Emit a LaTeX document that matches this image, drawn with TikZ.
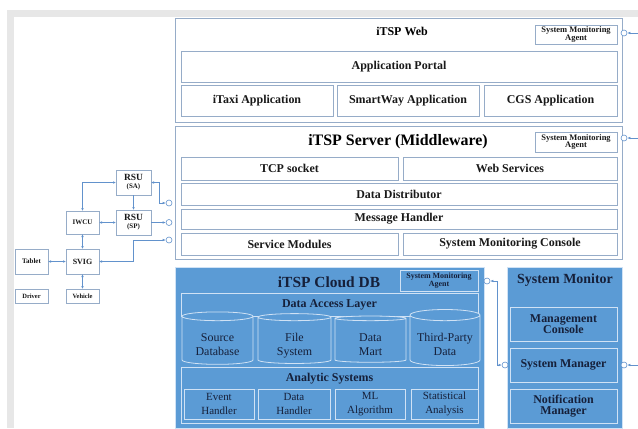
\documentclass[tikz,border=0pt]{standalone}
\usepackage{fontspec}
\setmainfont{Liberation Serif}
\usetikzlibrary{arrows.meta,shapes.geometric}

\definecolor{frameGray}{RGB}{231,231,231}
\definecolor{boxLine}{RGB}{150,172,200}
\definecolor{linkBlue}{RGB}{98,146,204}
\definecolor{cloudBlue}{RGB}{91,155,213}
\definecolor{cloudLine}{RGB}{208,226,245}
\definecolor{cloudText}{RGB}{22,32,58}

\newcommand{\fsz}[2]{\fontsize{#1}{#2}\selectfont}
\newcommand{\dbText}[1]{\raisebox{0pt}[\dimexpr\height+10bp\relax][\depth]{\begin{tabular}{@{}c@{}}#1\end{tabular}}}

\begin{document}
\begin{tikzpicture}[x=1bp, y=-1bp,
    wh/.style 2 args={minimum width=#1bp, minimum height=#2bp},
    wBox/.style={draw=boxLine, fill=white, line width=0.6pt, inner sep=0pt, outer sep=0pt, text=black!90, font=\bfseries\fsz{12}{13}},
    agentBox/.style={wBox, align=center, font=\bfseries\fsz{8.5}{8}},
    devBox/.style={wBox, align=center, font=\bfseries\fsz{7}{8}},
    cBox/.style={draw=cloudLine, fill=cloudBlue, line width=0.8pt, inner sep=0pt, outer sep=0pt, text=cloudText, align=center, font=\fsz{11}{14}},
    cTitle/.style={text=cloudText, font=\bfseries\fsz{12}{13}},
    cyl/.style={cylinder, shape border rotate=90, aspect=0.2, cBox, font=\fsz{12}{14.5}},
    port/.style={circle, draw=linkBlue, fill=white, line width=0.6pt, inner sep=0pt, minimum size=6bp},
    link/.style={draw=linkBlue, line width=0.6pt, -{Latex[length=3bp,width=2.6bp]}},
    link2/.style={draw=linkBlue, line width=0.6pt, {Latex[length=3bp,width=2.6bp]}-{Latex[length=3bp,width=2.6bp]}},
]
\useasboundingbox (0,0) rectangle (638,428);
\fill[frameGray] (7,10) rectangle (638,428);
\fill[white] (14,17) rectangle (638,428);

% iTSP Web
\node[wBox, wh={447}{104}] (web) at (398.5,70) {};
\node[font=\bfseries\fsz{12}{13}] (webTitle) at (402,31) {iTSP Web};
\node[agentBox, wh={82}{19}] (webAgent) at (576,34.5) {System Monitoring\\Agent};
\node[wBox, wh={436}{31}] (portal) at (399,66.5) {Application Portal};
\node[wBox, wh={152}{31}] (itaxi) at (257,100.5) {iTaxi Application};
\node[wBox, wh={142}{31}] (smartway) at (408,100.5) {SmartWay Application};
\node[wBox, wh={133}{31}] (cgs) at (550.5,100.5) {CGS Application};

% iTSP Server
\node[wBox, wh={447}{133}] (server) at (398.5,192.5) {};
\node[font=\bfseries\fsz{16}{17}] (serverTitle) at (398,142) {iTSP Server (Middleware)};
\node[agentBox, wh={82}{20}] (serverAgent) at (576,142) {System Monitoring\\Agent};
\node[wBox, wh={217}{23}] (tcp) at (289.5,168.5) {TCP socket};
\node[wBox, wh={214}{23}] (websvc) at (510,168.5) {Web Services};
\node[wBox, wh={436}{22}] (distributor) at (399,194) {Data Distributor};
\node[wBox, wh={436}{20}] (msghandler) at (399,219) {Message Handler};
\node[wBox, wh={217}{22}] (svcmod) at (289.5,244) {Service Modules};
\node[wBox, wh={214}{22}] (console) at (510,244) {System Monitoring Console};

% iTSP Cloud DB
\node[cBox, wh={309}{161}] (cloud) at (329.5,347.5) {};
\node[cTitle, font=\bfseries\fsz{15.5}{16}] (cloudTitle) at (329,282) {iTSP Cloud DB};
\node[cBox, font=\bfseries\fsz{8}{8}, wh={78}{21}] (cloudAgent) at (439,280.5) {System Monitoring\\Agent};
\node[cBox, font=\bfseries\fsz{12}{13}, wh={297}{23}] (access) at (329.5,304.5) {Data Access Layer};
\node[cyl, wh={71}{41}] (srcdb) at (217.5,340.5) {\dbText{Source\\Database}};
\node[cyl, wh={73}{41}] (filesys) at (294.5,340.5) {\dbText{File\\System}};
\node[cyl, wh={71}{41}] (mart) at (370.5,340.5) {\dbText{Data\\Mart}};
\node[cyl, wh={70}{41}] (thirdparty) at (445,340.5) {\dbText{Third-Party\\Data}};
\node[cBox, wh={297}{56}] (analytic) at (329.5,395) {};
\node[cTitle] (analyticTitle) at (329.5,379) {Analytic Systems};
\node[cBox, wh={70}{30}] (event) at (219,404) {Event\\Handler};
\node[cBox, wh={72}{30}] (datah) at (294,404) {Data\\Handler};
\node[cBox, wh={70}{30}] (ml) at (370,404) {ML\\Algorithm};
\node[cBox, wh={67}{30}] (stat) at (444.5,404) {Statistical\\Analysis};

% System Monitor
\node[cBox, wh={115}{161}] (monitor) at (564.5,347.5) {};
\node[cTitle, font=\bfseries\fsz{14}{15}] (monitorTitle) at (565,280) {System Monitor};
\node[cBox, font=\bfseries\fsz{12}{11}, wh={107}{34}] (mgmt) at (563.5,324) {Management\\Console};
\node[cBox, font=\bfseries\fsz{12}{11}, wh={107}{34}] (sysmgr) at (563.5,365) {System Manager};
\node[cBox, font=\bfseries\fsz{12}{11}, wh={107}{34}] (notify) at (563.5,406) {Notification\\Manager};

% Vehicle side
\node[devBox, wh={35}{25}] (rsuSA) at (133.5,182.5) {\fsz{9.5}{9}RSU\\\fsz{7}{8}(SA)};
\node[devBox, wh={35}{25}] (rsuSP) at (133.5,222.5) {\fsz{9.5}{9}RSU\\\fsz{7}{8}(SP)};
\node[devBox, wh={33}{23}, font=\bfseries\fsz{7}{8}] (iwcu) at (82.5,222.5) {IWCU};
\node[devBox, wh={33}{25}, font=\bfseries\fsz{8}{8}] (svig) at (82.5,261.5) {SVIG};
\node[devBox, wh={33}{25}, font=\bfseries\fsz{7}{8}] (tablet) at (31.5,261.5) {Tablet};
\node[devBox, wh={33}{14}, font=\bfseries\fsz{6.5}{7}] (driver) at (31.5,296) {Driver};
\node[devBox, wh={33}{14}, font=\bfseries\fsz{6.5}{7}] (vehicle) at (82.5,296) {Vehicle};

% Ports
\node[port] (pDist) at (169,203) {};
\node[port] (pMsg) at (169,222.5) {};
\node[port] (pSvc) at (169,240) {};
\node[port] (pWeb) at (624,33) {};
\node[port] (pServer) at (624,138) {};
\node[port] (pCloud) at (487,281) {};
\node[port] (pMgrIn) at (505,365) {};
\node[port] (pMgrOut) at (624,365) {};
\coordinate (webEdge) at (638,33);
\coordinate (serverEdge) at (638,138);
\coordinate (mgrEdge) at (638,365);

% Links
\draw[link2] (iwcu.north) |- (rsuSA.west);
\draw[link] (rsuSA.south) -- (rsuSP.north);
\draw[link2] (iwcu.east) -- (rsuSP.west);
\draw[link2] (iwcu.south) -- (svig.north);
\draw[link2] (tablet.east) -- (svig.west);
\draw[link2] (svig.south) -- (vehicle.north);
\draw[link2] (rsuSA.east) -- ++(8,0) |- (pDist.west);
\draw[link] (rsuSP.east) -- (pMsg.west);
\draw[link2] (svig.east) -- ++(34,0) |- (pSvc.west);
\draw[link] (webEdge) -- (pWeb.east);
\draw[link] (serverEdge) -- (pServer.east);
\draw[link] (mgrEdge) -- (pMgrOut.east);
\draw[link2] (pCloud.east) -- ++(7,0) |- (pMgrIn.west);
\end{tikzpicture}
\end{document}
